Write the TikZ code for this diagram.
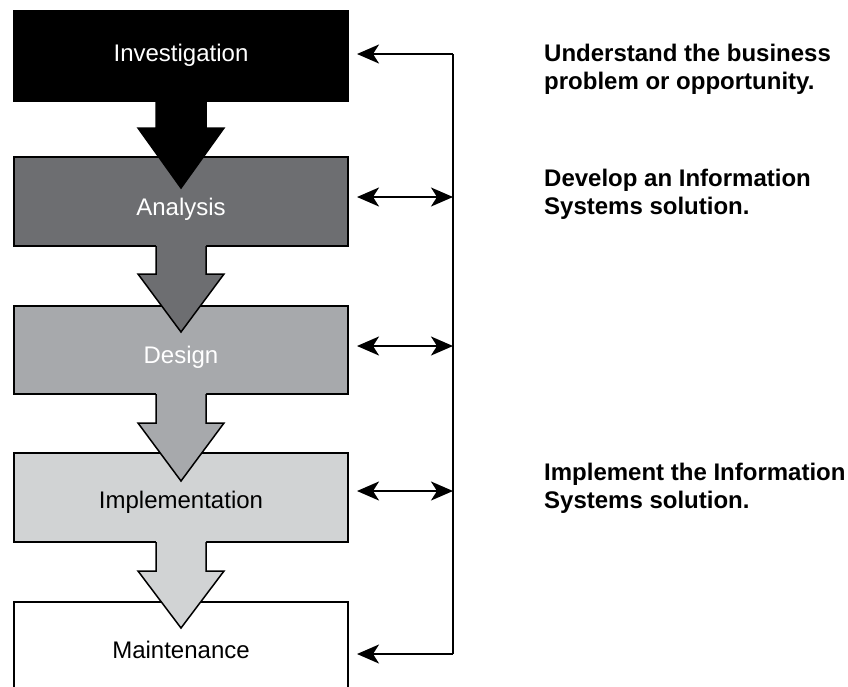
\documentclass[tikz,border=0pt]{standalone}
\usepackage{fontspec}
\setmainfont{Liberation Sans}
\usetikzlibrary{arrows.meta}
\definecolor{cA}{HTML}{6D6E71}
\definecolor{cD}{HTML}{A7A9AC}
\definecolor{cI}{HTML}{D1D3D4}
\tikzset{
  box/.style={draw=black, line width=1.5pt, rectangle, minimum width=334pt, inner sep=0pt},
  lbl/.style={anchor=base, font=\fontsize{24}{28}\selectfont, inner sep=0pt},
  note/.style={anchor=base west, align=left, font=\fontsize{24}{28}\selectfont\bfseries, inner sep=0pt},
  conn/.style={line width=2pt, arrows={-Stealth[length=22pt, width=19pt, inset=6pt]}},
  dconn/.style={line width=2pt, arrows={Stealth[length=22pt, width=19pt, inset=6pt]-Stealth[length=22pt, width=19pt, inset=6pt]}},
  blk/.style={line width=1.5pt, line join=miter}
}
\begin{document}
\begin{tikzpicture}[x=1pt,y=-1pt]
\useasboundingbox (0,0) rectangle (848,686);
\clip (0,0) rectangle (848,686);
\fill[white] (0,0) rectangle (848,686);
% boxes
\node[box, fill=black, minimum height=90pt] (inv) at (181,56) {};
\node[box, fill=cA, minimum height=89pt] (ana) at (181,201.5) {};
\node[box, fill=cD, minimum height=88pt] (des) at (181,350) {};
\node[box, fill=cI, minimum height=89pt] (imp) at (181,497.5) {};
\node[box, fill=white, minimum height=200pt] (mai) at (181,702) {};
% block arrows
\fill[black] (156,100) -- (156,128) -- (138,128) -- (181,188) -- (224,128) -- (206,128) -- (206,100) -- cycle;
\draw[blk] (156,101) -- (156,128) -- (138,128) -- (181,188) -- (224,128) -- (206,128) -- (206,101);
\fill[cA] (156,245) -- (156,274) -- (138,274) -- (181,332) -- (224,274) -- (206,274) -- (206,245) -- cycle;
\draw[blk] (156,246) -- (156,274) -- (138,274) -- (181,332) -- (224,274) -- (206,274) -- (206,246);
\fill[cD] (156,393) -- (156,423) -- (138,423) -- (181,481) -- (224,423) -- (206,423) -- (206,393) -- cycle;
\draw[blk] (156,394) -- (156,423) -- (138,423) -- (181,481) -- (224,423) -- (206,423) -- (206,394);
\fill[cI] (156,541) -- (156,571) -- (138,571) -- (181,628) -- (224,571) -- (206,571) -- (206,541) -- cycle;
\draw[blk] (156,542) -- (156,571) -- (138,571) -- (181,628) -- (224,571) -- (206,571) -- (206,542);
% labels
\node[lbl, text=white] (tinv) at (181,61) {Investigation};
\node[lbl, text=white] (tana) at (181,215) {Analysis};
\node[lbl, text=white] (tdes) at (181,363) {Design};
\node[lbl, text=black] (timp) at (181,508) {Implementation};
\node[lbl, text=black] (tmai) at (181,658) {Maintenance};
% connectors
\coordinate (top) at (453,54);
\coordinate (bot) at (453,654);
\coordinate (e1) at (357,54);
\coordinate (e5) at (357,654);
\coordinate (a2) at (357,197); \coordinate (b2) at (453,197);
\coordinate (a3) at (357,346); \coordinate (b3) at (453,346);
\coordinate (a4) at (357,491); \coordinate (b4) at (453,491);
\draw[line width=2pt] (top) -- (bot);
\draw[conn] (top) -- (e1);
\draw[conn] (bot) -- (e5);
\draw[dconn] (a2) -- (b2);
\draw[dconn] (a3) -- (b3);
\draw[dconn] (a4) -- (b4);
% notes
\node[note] (n1) at (544,89) {Understand the business\\problem or opportunity.};
\node[note] (n2) at (544,214) {Develop an Information\\Systems solution.};
\node[note] (n3) at (544,508) {Implement the Information\\Systems solution.};
\end{tikzpicture}
\end{document}
